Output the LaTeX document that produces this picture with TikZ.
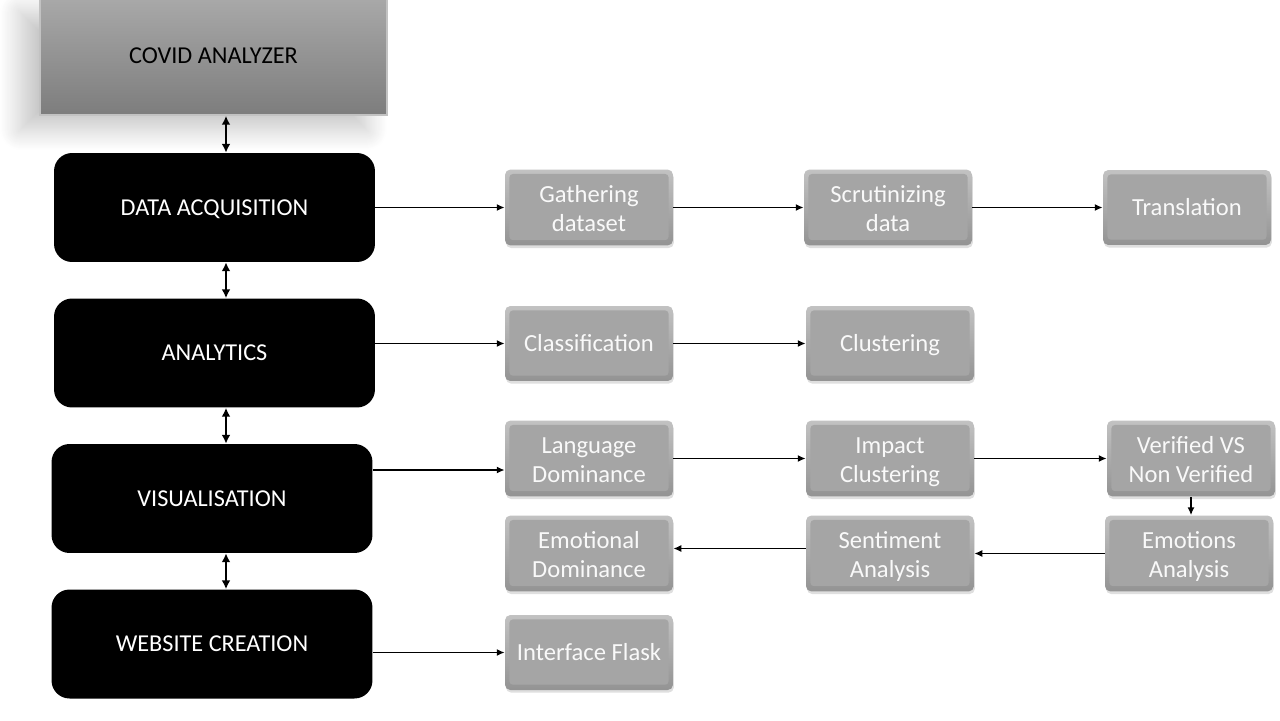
\documentclass[tikz,border=0pt]{standalone}
\usepackage{fontspec}
\setmainfont{Carlito}
\usetikzlibrary{positioning,
                arrows.meta,                % arrow tips
                shadows, shadows.blur}

\definecolor{facegray}{HTML}{A5A5A5}
\definecolor{rimtop}{HTML}{C2C2C2}
\definecolor{rimbot}{HTML}{939393}
\definecolor{headtop}{HTML}{A9A9A9}
\definecolor{headbot}{HTML}{7D7D7D}

\begin{document}
\begin{tikzpicture}[x=0.02cm, y=-0.02cm,
    headbox/.style={minimum width=6.94cm, minimum height=2.36cm, top color=headtop,
        bottom color=headbot, draw=rimtop, line width=1pt, text=black,
        font=\fontsize{13.8}{16}\selectfont, text height=9pt, text depth=0pt,
        blur shadow={shadow xshift=-0.4cm, shadow yshift=-0.3cm, shadow opacity=22,
        shadow blur radius=0.4cm, shadow blur steps=20}},
    blkbox/.style={fill=black, rounded corners=0.36cm, minimum width=6.42cm,
        minimum height=2.18cm, text=white, font=\fontsize{13.8}{16}\selectfont,
        text height=9pt, text depth=0pt},
    gbox/.style={minimum width=3.36cm, minimum height=1.5cm, rounded corners=3pt,
        top color=rimtop, bottom color=rimbot, text=white!95!gray, align=center,
        font=\fontsize{14}{16.5}\selectfont, text height=13.3pt, text depth=4.5pt,
        drop shadow={shadow xshift=0.5pt, shadow yshift=-1.5pt, opacity=0.25},
        path picture={\fill[facegray, rounded corners=2pt]
            ([shift={(2.5pt,-2.5pt)}]path picture bounding box.north west)
            rectangle ([shift={(-2.5pt,3pt)}]path picture bounding box.south east);}},
    twoline/.style={text height=32pt},
    arr/.style={-{Latex[length=4.5pt,width=4pt]}, line width=0.85pt},
    dbl/.style={{Latex[length=5pt,width=5pt]}-{Latex[length=5pt,width=5pt]}, line width=1.2pt}]

    \useasboundingbox (0,0) rectangle (1280,720);

    % left column
    \node[headbox] (cov) at (213.5,56) {COVID ANALYZER};
    \node[blkbox] (daq) at (214.5,207.5) {DATA ACQUISITION};
    \node[blkbox] (ana) at (214.5,353) {ANALYTICS};
    \node[blkbox] (vis) at (212,498.5) {VISUALISATION};
    \node[blkbox] (web) at (212,644) {WEBSITE CREATION};

    \draw[dbl] ([xshift=0.25cm]cov.south) -- ([xshift=0.25cm]cov.south |- daq.north);
    \draw[dbl] ([xshift=0.23cm]daq.south) -- ([xshift=0.23cm]daq.south |- ana.north);
    \draw[dbl] ([xshift=0.23cm]ana.south) -- ([xshift=0.23cm]ana.south |- vis.north);
    \draw[dbl] ([xshift=0.28cm]vis.south) -- ([xshift=0.28cm]vis.south |- web.north);

    % steps
    \node[gbox, twoline] (gath) at (589,207.5) {Gathering\\dataset};
    \node[gbox, twoline] (scru) at (888,207.5) {Scrutinizing\\data};
    \node[gbox] (trans) at (1187,207.5) {Translation};

    \node[gbox] (cls) at (589,343.5) {Classification};
    \node[gbox] (clu) at (890,343.5) {Clustering};

    \node[gbox, twoline] (lang) at (589,458.5) {Language\\Dominance};
    \node[gbox, twoline] (imp) at (890,458.5) {Impact\\Clustering};
    \node[gbox, twoline] (ver) at (1191,458.5) {Verified VS\\Non Verified};

    \node[gbox, twoline] (emod) at (589,553.5) {Emotional\\Dominance};
    \node[gbox, twoline] (sent) at (890,553.5) {Sentiment\\Analysis};
    \node[gbox, twoline] (emo) at (1189,553.5) {Emotions\\Analysis};

    \node[gbox] (ifl) at (589,652.5) {Interface Flask};

    % connectors
    \draw[arr] (daq.east) -- (gath.west);
    \draw[arr] (gath.east) -- (scru.west);
    \draw[arr] (scru.east) -- (trans.west);

    \draw[arr] (cls.west -| ana.east) -- (cls.west);
    \draw[arr] (cls.east) -- (clu.west);

    \coordinate (v1) at ([yshift=0.57cm]vis.east);
    \draw[arr] (v1) -- (v1 -| lang.west);
    \draw[arr] (lang.east) -- (imp.west);
    \draw[arr] (imp.east) -- (ver.west);
    \draw[arr] (ver.south) -- (ver.south |- emo.north);
    \draw[arr] (emo.west) -- (sent.east);
    \draw[arr] ([yshift=0.1cm]sent.west) -- ([yshift=0.1cm]emod.east);

    \draw[arr] (ifl.west -| web.east) -- (ifl.west);
\end{tikzpicture}
\end{document}
